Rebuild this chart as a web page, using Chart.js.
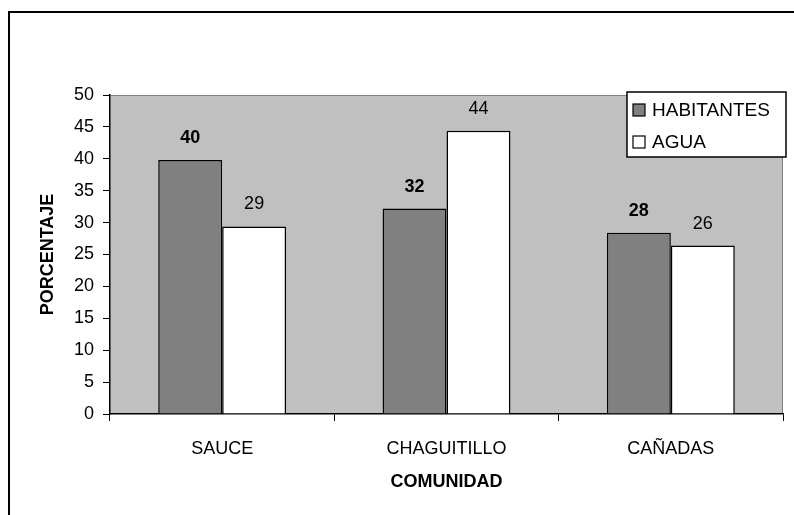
<!DOCTYPE html>
<html>
<head>
<meta charset="utf-8">
<script src="https://cdn.jsdelivr.net/npm/chart.js@4.4.1/dist/chart.umd.min.js"></script>
<style>
  html, body { margin: 0; padding: 0; background: #fff; }
  #wrap { width: 794px; height: 515px; }
</style>
</head>
<body>
<div id="wrap"><canvas id="chart" width="794" height="515"></canvas></div>
<script>
const communities = ["SAUCE", "CHAGUITILLO", "CAÑADAS"];
const habitantes = [39.8, 32.2, 28.4];
const agua = [29.4, 44.4, 26.4];
const yTicks = [0, 5, 10, 15, 20, 25, 30, 35, 40, 45, 50];

const FONT = "'Liberation Sans', Arial, sans-serif";

// frame, gray plot background, axis titles
const backdrop = {
    id: "backdrop",
    beforeDraw(chart) {
        const ctx = chart.ctx;
        const a = chart.chartArea;
        ctx.save();
        ctx.fillStyle = "#fff";
        ctx.fillRect(0, 0, chart.width, chart.height);
        ctx.strokeStyle = "#000";
        ctx.lineWidth = 2;
        ctx.beginPath();
        ctx.moveTo(9, chart.height);
        ctx.lineTo(9, 12);
        ctx.lineTo(chart.width, 12);
        ctx.stroke();

        ctx.fillStyle = "#c0c0c0";
        ctx.fillRect(a.left, a.top, a.right - a.left, a.bottom - a.top);
        ctx.strokeStyle = "#808080";
        ctx.lineWidth = 1;
        ctx.beginPath();
        ctx.moveTo(a.left, a.top + 0.5);
        ctx.lineTo(a.right - 0.5, a.top + 0.5);
        ctx.lineTo(a.right - 0.5, a.bottom);
        ctx.stroke();

        ctx.fillStyle = "#000";
        ctx.font = "bold 18px " + FONT;
        ctx.textAlign = "center";
        ctx.textBaseline = "middle";
        ctx.fillText("COMUNIDAD", (a.left + a.right) / 2, 482);
        ctx.translate(48, (a.top + a.bottom) / 2);
        ctx.rotate(-Math.PI / 2);
        ctx.fillText("PORCENTAJE", 0, 0);
        ctx.restore();
    },
    afterDatasetsDraw(chart) {
        const ctx = chart.ctx;
        ctx.save();
        ctx.fillStyle = "#000";
        ctx.textAlign = "center";
        ctx.textBaseline = "middle";
        chart.data.datasets.forEach((ds, i) => {
            ctx.font = (i === 0 ? "bold " : "") + "18px " + FONT;
            chart.getDatasetMeta(i).data.forEach((bar, j) => {
                ctx.fillText(Math.round(ds.data[j]), bar.x, bar.y - 22);
            });
        });

        // legend box
        const lx = 627, ly = 92, lw = 159, lh = 65;
        ctx.fillStyle = "#fff";
        ctx.fillRect(lx, ly, lw, lh);
        ctx.strokeStyle = "#000";
        ctx.lineWidth = 1.5;
        ctx.strokeRect(lx, ly, lw, lh);
        ctx.font = "19px " + FONT;
        ctx.textAlign = "left";
        chart.data.datasets.forEach((ds, i) => {
            const cy = 110 + i * 32;
            ctx.fillStyle = ds.backgroundColor;
            ctx.fillRect(633, cy - 6, 12, 12);
            ctx.lineWidth = 1.2;
            ctx.strokeRect(633, cy - 6, 12, 12);
            ctx.fillStyle = "#000";
            ctx.fillText(ds.label, 652, cy + 1);
        });
        ctx.restore();
    }
};

new Chart(document.getElementById("chart"), {
    type: "bar",
    data: {
        labels: communities,
        datasets: [
            {
                label: "HABITANTES",
                data: habitantes,
                backgroundColor: "#808080",
                borderColor: "#000",
                borderWidth: 1.5,
                categoryPercentage: 0.57,
                barPercentage: 1.0
            },
            {
                label: "AGUA",
                data: agua,
                backgroundColor: "#ffffff",
                borderColor: "#000",
                borderWidth: 1.5,
                categoryPercentage: 0.57,
                barPercentage: 1.0
            }
        ]
    },
    options: {
        responsive: false,
        animation: false,
        layout: { padding: { top: 95, right: 11, left: 0, bottom: 0 } },
        plugins: {
            legend: { display: false },
            tooltip: { enabled: false }
        },
        scales: {
            x: {
                grid: { drawOnChartArea: false, tickLength: 7, color: "#000", offset: true },
                border: { color: "#000", width: 1.5 },
                ticks: { color: "#000", padding: 17, font: { family: FONT, size: 18 } },
                afterFit(scale) { scale.height = 101; }
            },
            y: {
                min: 0,
                max: 50,
                afterBuildTicks(scale) { scale.ticks = yTicks.map(v => ({ value: v })); },
                grid: { drawOnChartArea: false, tickLength: 7, color: "#000" },
                border: { color: "#000", width: 1.5 },
                ticks: { color: "#000", padding: 9, font: { family: FONT, size: 18 } },
                afterFit(scale) { scale.width = 110; }
            }
        }
    },
    plugins: [backdrop]
});
</script>
</body>
</html>
